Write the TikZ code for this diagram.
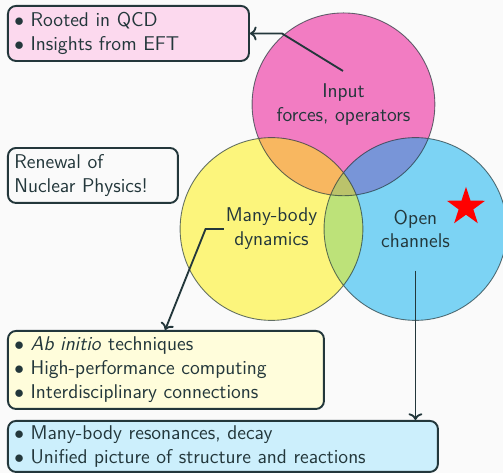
\documentclass[tikz,border=0pt]{standalone}
\usepackage{tikz}
\usetikzlibrary{shapes.geometric, arrows.meta, positioning, calc}
\definecolor{mDarkTeal}{HTML}{23373B}
\definecolor{mBackground}{HTML}{FAFAFA}
\definecolor{vennPink}{HTML}{EC008C}
\definecolor{vennYellow}{HTML}{FFF200}
\definecolor{vennCyan}{HTML}{00AEEF}
\newcommand{\itm}{$\bullet$\ }

\begin{document}
\begin{tikzpicture}[
    every node/.style={font=\sffamily\fontsize{12.4}{14.9}\selectfont, text=mDarkTeal},
    vennfill/.style={fill opacity=0.5},
    vennline/.style={draw=mDarkTeal, draw opacity=0.7, line width=0.55pt},
    label/.style={align=center, inner sep=1pt},
    infobox/.style={draw=mDarkTeal, line width=1.2pt, rounded corners=5pt,
      align=left, anchor=north west, inner xsep=4pt, inner ysep=0pt},
    link/.style={->, mDarkTeal, line width=1.15pt}
  ]
  \useasboundingbox (0,0) rectangle (11.007,10.350);
  \fill[mBackground] (0,0) rectangle (11.007,10.350);

  % the three circles
  \coordinate (yc) at (5.941,5.339);
  \coordinate (cc) at ($(yc)+(3.15,0)$);
  \coordinate (pc) at ($(yc)+(1.575,2.728)$);
  \fill[vennPink, vennfill] (pc) circle (2);
  \fill[vennCyan, vennfill] (cc) circle (2);
  \fill[vennYellow, vennfill] (yc) circle (2);
  \draw[vennline] (pc) circle (2) (cc) circle (2) (yc) circle (2);

  \node[label] (input) at (pc) {Input\\forces, operators};
  \node[label] (manybody) at (yc) {Many-body\\dynamics};
  \node[label] (open) at (cc) {Open\\channels};
  \node[star, star points=5, star point ratio=2.6, fill=red, minimum size=0.88cm, inner sep=0pt]
    (flag) at (10.197,5.821) {};

  % boxes
  \node[infobox, fill=vennPink!15, text width={5.274cm-8pt}, minimum height=1.204cm]
    (rooted) at (0.153,10.241) {\itm Rooted in QCD\\\itm Insights from EFT};
  \node[infobox, text width={3.72cm-8pt}, minimum height=1.203cm]
    (renewal) at (0.153,7.133) {Renewal of\\Nuclear Physics!};
  \node[infobox, fill=vennYellow!14, text width={6.915cm-8pt}, minimum height=1.707cm]
    (abinitio) at (0.153,3.129) {\itm \textit{Ab initio} techniques\\\itm High-performance computing\\\itm Interdisciplinary connections};
  \node[infobox, fill=vennCyan!20, text width={9.409cm-8pt}, minimum height=1.116cm]
    (resonances) at (0.153,1.160) {\itm Many-body resonances, decay\\\itm Unified picture of structure and reactions};

  % connectors
  \coordinate (inputtail) at (7.506,8.797);
  \draw[link] (inputtail) -- ($(rooted.east)+(0.70,0)$) -- (rooted.east);
  \draw[link] (manybody.west) -- ++(-0.40,0) -- ([xshift=3.46cm]abinitio.north west);
  \draw[link] ([yshift=-0.45cm]open.south) -- (open.south |- resonances.north);
\end{tikzpicture}
\end{document}
